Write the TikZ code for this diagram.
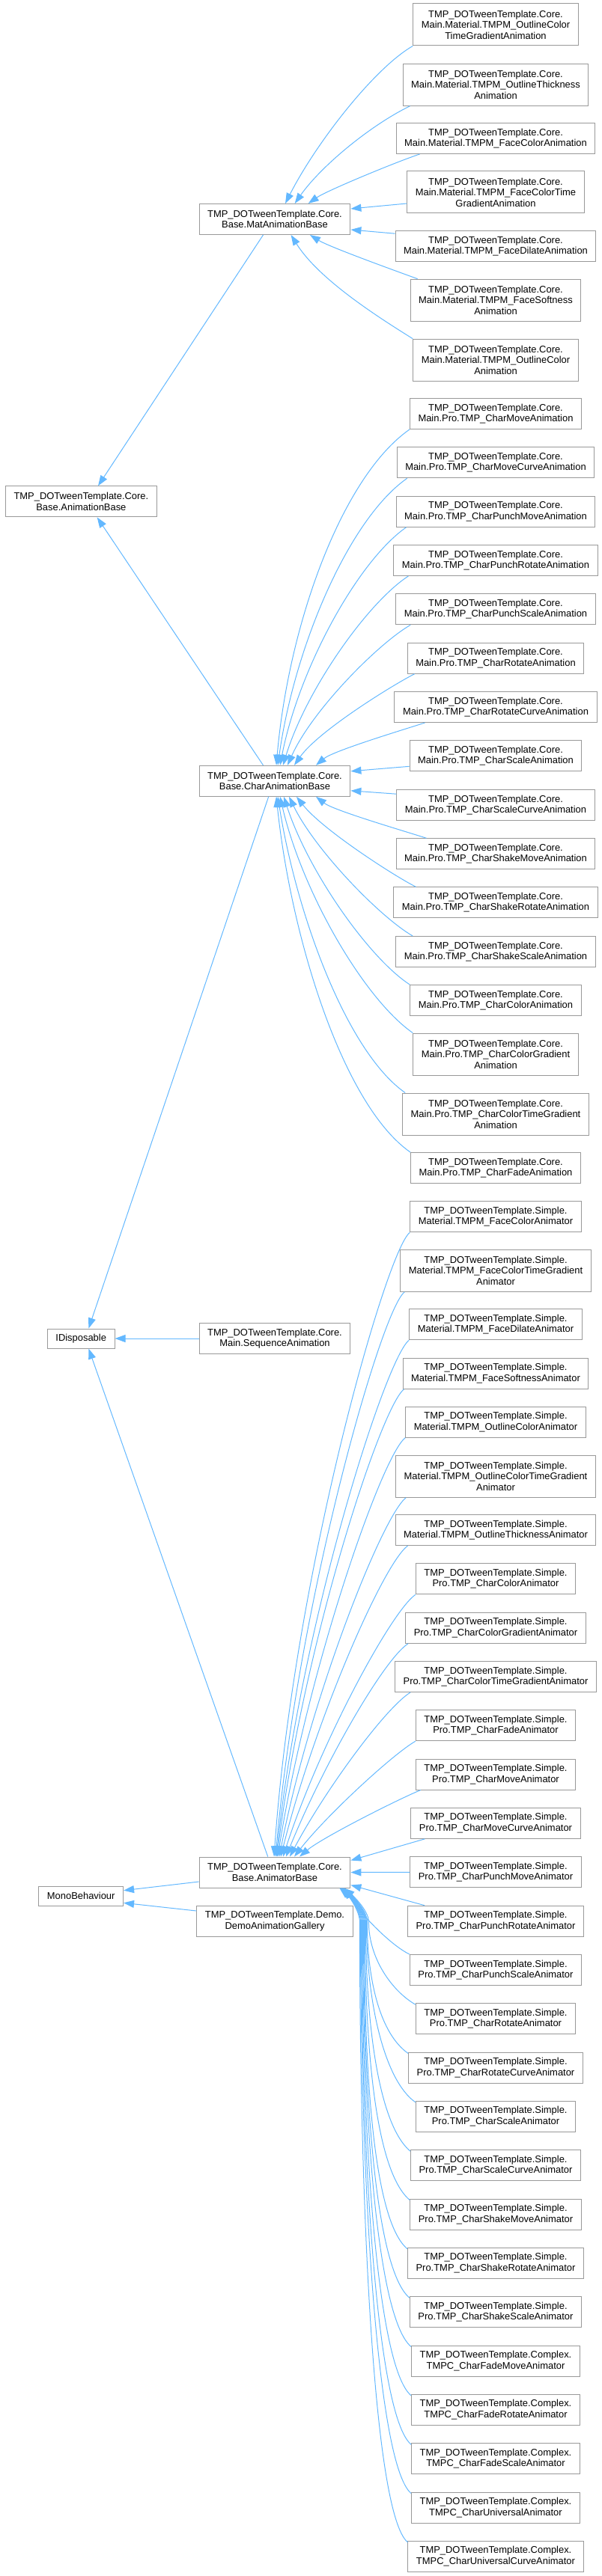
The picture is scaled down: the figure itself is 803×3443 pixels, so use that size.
\documentclass[tikz,border=0pt]{standalone}
\usepackage{fontspec}
\setmainfont{Liberation Sans}
\usetikzlibrary{calc, arrows.meta}

\definecolor{edgeblue}{HTML}{63B8FF}
\definecolor{boxgray}{HTML}{999999}

\tikzset{
    cls/.style={draw=boxgray, fill=white, line width=0.75pt, align=center,
        font=\fontsize{9.7pt}{10.9pt}\selectfont,
        inner xsep=8.3pt, inner ysep=2pt, minimum height=30.75pt},
    tall/.style={cls, minimum height=42pt},
    short/.style={cls, minimum height=19.5pt},
    inh/.style={draw=edgeblue, line width=0.75pt,
        -{Triangle[length=10.5pt, width=7.5pt]}}
}

\begin{document}
\begin{tikzpicture}[x=0.75pt, y=0.75pt]

    \useasboundingbox (0,0) rectangle (803,-3443);

    % Roots
    \node[cls] (anb) at (108.4,-670.4) {TMP\_DOTweenTemplate.Core.\\Base.AnimationBase};
    \node[short] (idisp) at (108.2,-1789) {IDisposable};
    \node[short] (mono) at (108.2,-2534.3) {MonoBehaviour};

    % Base classes
    \node[cls] (mab) at (367,-293) {TMP\_DOTweenTemplate.Core.\\Base.MatAnimationBase};
    \node[cls] (cab) at (367,-1043.8) {TMP\_DOTweenTemplate.Core.\\Base.CharAnimationBase};
    \node[cls] (seq) at (367,-1789) {TMP\_DOTweenTemplate.Core.\\Main.SequenceAnimation};
    \node[cls] (ab) at (367,-2502.5) {TMP\_DOTweenTemplate.Core.\\Base.AnimatorBase};
    \node[cls] (demo) at (367,-2567.8) {TMP\_DOTweenTemplate.Demo.\\DemoAnimationGallery};

    % Material animations
    \node[tall] (m1) at (662,-33) {TMP\_DOTweenTemplate.Core.\\Main.Material.TMPM\_OutlineColor\\TimeGradientAnimation};
    \node[tall] (m2) at (662,-113.2) {TMP\_DOTweenTemplate.Core.\\Main.Material.TMPM\_OutlineThickness\\Animation};
    \node[cls] (m3) at (662,-185) {TMP\_DOTweenTemplate.Core.\\Main.Material.TMPM\_FaceColorAnimation};
    \node[tall] (m4) at (662,-257) {TMP\_DOTweenTemplate.Core.\\Main.Material.TMPM\_FaceColorTime\\GradientAnimation};
    \node[cls] (m5) at (662,-329.2) {TMP\_DOTweenTemplate.Core.\\Main.Material.TMPM\_FaceDilateAnimation};
    \node[tall] (m6) at (662,-401.2) {TMP\_DOTweenTemplate.Core.\\Main.Material.TMPM\_FaceSoftness\\Animation};
    \node[tall] (m7) at (662,-481.2) {TMP\_DOTweenTemplate.Core.\\Main.Material.TMPM\_OutlineColor\\Animation};

    % Char animations
    \node[cls] (c1) at (662,-553) {TMP\_DOTweenTemplate.Core.\\Main.Pro.TMP\_CharMoveAnimation};
    \node[cls] (c2) at (662,-618.3) {TMP\_DOTweenTemplate.Core.\\Main.Pro.TMP\_CharMoveCurveAnimation};
    \node[cls] (c3) at (662,-683.7) {TMP\_DOTweenTemplate.Core.\\Main.Pro.TMP\_CharPunchMoveAnimation};
    \node[cls] (c4) at (662,-749) {TMP\_DOTweenTemplate.Core.\\Main.Pro.TMP\_CharPunchRotateAnimation};
    \node[cls] (c5) at (662,-814.3) {TMP\_DOTweenTemplate.Core.\\Main.Pro.TMP\_CharPunchScaleAnimation};
    \node[cls] (c6) at (662,-879.7) {TMP\_DOTweenTemplate.Core.\\Main.Pro.TMP\_CharRotateAnimation};
    \node[cls] (c7) at (662,-945) {TMP\_DOTweenTemplate.Core.\\Main.Pro.TMP\_CharRotateCurveAnimation};
    \node[cls] (c8) at (662,-1010.3) {TMP\_DOTweenTemplate.Core.\\Main.Pro.TMP\_CharScaleAnimation};
    \node[cls] (c9) at (662,-1076.2) {TMP\_DOTweenTemplate.Core.\\Main.Pro.TMP\_CharScaleCurveAnimation};
    \node[cls] (c10) at (662,-1141.3) {TMP\_DOTweenTemplate.Core.\\Main.Pro.TMP\_CharShakeMoveAnimation};
    \node[cls] (c11) at (662,-1206.3) {TMP\_DOTweenTemplate.Core.\\Main.Pro.TMP\_CharShakeRotateAnimation};
    \node[cls] (c12) at (662,-1272) {TMP\_DOTweenTemplate.Core.\\Main.Pro.TMP\_CharShakeScaleAnimation};
    \node[cls] (c13) at (662,-1337) {TMP\_DOTweenTemplate.Core.\\Main.Pro.TMP\_CharColorAnimation};
    \node[tall] (c14) at (662,-1409) {TMP\_DOTweenTemplate.Core.\\Main.Pro.TMP\_CharColorGradient\\Animation};
    \node[tall] (c15) at (662,-1489) {TMP\_DOTweenTemplate.Core.\\Main.Pro.TMP\_CharColorTimeGradient\\Animation};
    \node[cls] (c16) at (662,-1561) {TMP\_DOTweenTemplate.Core.\\Main.Pro.TMP\_CharFadeAnimation};

    % Animators
    \node[cls] (a1) at (662,-1626.3) {TMP\_DOTweenTemplate.Simple.\\Material.TMPM\_FaceColorAnimator};
    \node[tall] (a2) at (662,-1698.3) {TMP\_DOTweenTemplate.Simple.\\Material.TMPM\_FaceColorTimeGradient\\Animator};
    \node[cls] (a3) at (662,-1770.3) {TMP\_DOTweenTemplate.Simple.\\Material.TMPM\_FaceDilateAnimator};
    \node[cls] (a4) at (662,-1835.7) {TMP\_DOTweenTemplate.Simple.\\Material.TMPM\_FaceSoftnessAnimator};
    \node[cls] (a5) at (662,-1900.7) {TMP\_DOTweenTemplate.Simple.\\Material.TMPM\_OutlineColorAnimator};
    \node[tall] (a6) at (662,-1973.3) {TMP\_DOTweenTemplate.Simple.\\Material.TMPM\_OutlineColorTimeGradient\\Animator};
    \node[cls] (a7) at (662,-2045) {TMP\_DOTweenTemplate.Simple.\\Material.TMPM\_OutlineThicknessAnimator};
    \node[cls] (a8) at (662,-2110.3) {TMP\_DOTweenTemplate.Simple.\\Pro.TMP\_CharColorAnimator};
    \node[cls] (a9) at (662,-2175.7) {TMP\_DOTweenTemplate.Simple.\\Pro.TMP\_CharColorGradientAnimator};
    \node[cls] (a10) at (662,-2241) {TMP\_DOTweenTemplate.Simple.\\Pro.TMP\_CharColorTimeGradientAnimator};
    \node[cls] (a11) at (662,-2306.2) {TMP\_DOTweenTemplate.Simple.\\Pro.TMP\_CharFadeAnimator};
    \node[cls] (a12) at (662,-2371.5) {TMP\_DOTweenTemplate.Simple.\\Pro.TMP\_CharMoveAnimator};
    \node[cls] (a13) at (662,-2436.8) {TMP\_DOTweenTemplate.Simple.\\Pro.TMP\_CharMoveCurveAnimator};
    \node[cls] (a14) at (662,-2502.3) {TMP\_DOTweenTemplate.Simple.\\Pro.TMP\_CharPunchMoveAnimator};
    \node[cls] (a15) at (662,-2567.7) {TMP\_DOTweenTemplate.Simple.\\Pro.TMP\_CharPunchRotateAnimator};
    \node[cls] (a16) at (662,-2633) {TMP\_DOTweenTemplate.Simple.\\Pro.TMP\_CharPunchScaleAnimator};
    \node[cls] (a17) at (662,-2698.2) {TMP\_DOTweenTemplate.Simple.\\Pro.TMP\_CharRotateAnimator};
    \node[cls] (a18) at (662,-2763.5) {TMP\_DOTweenTemplate.Simple.\\Pro.TMP\_CharRotateCurveAnimator};
    \node[cls] (a19) at (662,-2828.8) {TMP\_DOTweenTemplate.Simple.\\Pro.TMP\_CharScaleAnimator};
    \node[cls] (a20) at (662,-2894.2) {TMP\_DOTweenTemplate.Simple.\\Pro.TMP\_CharScaleCurveAnimator};
    \node[cls] (a21) at (662,-2959.5) {TMP\_DOTweenTemplate.Simple.\\Pro.TMP\_CharShakeMoveAnimator};
    \node[cls] (a22) at (662,-3024.8) {TMP\_DOTweenTemplate.Simple.\\Pro.TMP\_CharShakeRotateAnimator};
    \node[cls] (a23) at (662,-3090.2) {TMP\_DOTweenTemplate.Simple.\\Pro.TMP\_CharShakeScaleAnimator};
    \node[cls] (a24) at (662,-3155.5) {TMP\_DOTweenTemplate.Complex.\\TMPC\_CharFadeMoveAnimator};
    \node[cls] (a25) at (662,-3220.8) {TMP\_DOTweenTemplate.Complex.\\TMPC\_CharFadeRotateAnimator};
    \node[cls] (a26) at (662,-3286.2) {TMP\_DOTweenTemplate.Complex.\\TMPC\_CharFadeScaleAnimator};
    \node[cls] (a27) at (662,-3351.5) {TMP\_DOTweenTemplate.Complex.\\TMPC\_CharUniversalAnimator};
    \node[cls] (a28) at (662,-3416.8) {TMP\_DOTweenTemplate.Complex.\\TMPC\_CharUniversalCurveAnimator};

    % Links to the roots
    \draw[inh] ($(mab.south)+(-15.5,0)$) -- ($(anb.north)+(22.6,0)$);
    \draw[inh] ($(cab.north)+(-15.5,0)$) -- ($(anb.south)+(21.3,0)$);
    \draw[inh] ($(cab.south)+(-8.3,0)$) -- ($(idisp.north)+(10.2,0)$);
    \draw[inh] ($(ab.north)+(-9.3,0)$) -- ($(idisp.south)+(10.2,0)$);
    \draw[inh] (seq.west) -- (idisp.east);
    \draw[inh] ($(ab.west)+(0,-12.5)$) -- ($(mono.east)+(0,7.6)$);
    \draw[inh] ($(demo.west)+(0,13.8)$) -- ($(mono.east)+(0,-9)$);

    % Into MatAnimationBase
    \draw[inh] (m1.south west) .. controls +(210:60) and +(63:90) .. ($(mab.north)+(14,0)$);
    \draw[inh] ($(m2.south west)+(10,0)$) .. controls +(206:60) and +(55:60) .. ($(mab.north)+(26.7,0)$);
    \draw[inh] ($(m3.south west)+(32,0)$) .. controls +(198:30) and +(35:30) .. ($(mab.north)+(44.7,0)$);
    \draw[inh] ($(m4.west)+(0,-15)$) -- ($(mab.east)+(0,14)$);
    \draw[inh] ($(m5.west)+(0,17)$) -- ($(mab.east)+(0,-14)$);
    \draw[inh] ($(m6.north west)+(10,0)$) .. controls +(160:30) and +(-32:30) .. ($(mab.south)+(47,0)$);
    \draw[inh] (m7.north west) .. controls +(148:55) and +(-58:70) .. ($(mab.south)+(21.6,0)$);

    % Into CharAnimationBase
    \draw[inh] (c1.south west) .. controls +(215:110) and +(85:190) .. ($(cab.north)+(2,0)$);
    \draw[inh] ($(c2.south west)+(14,0)$) .. controls +(215:95) and +(82:160) .. ($(cab.north)+(4,0)$);
    \draw[inh] ($(c3.south west)+(14,0)$) .. controls +(215:80) and +(79:130) .. ($(cab.north)+(7,0)$);
    \draw[inh] ($(c4.south west)+(20,0)$) .. controls +(213:65) and +(73:105) .. ($(cab.north)+(11,0)$);
    \draw[inh] ($(c5.south west)+(20,0)$) .. controls +(210:50) and +(66:80) .. ($(cab.north)+(17,0)$);
    \draw[inh] ($(c6.south west)+(10,0)$) .. controls +(207:35) and +(55:55) .. ($(cab.north)+(26,0)$);
    \draw[inh] ($(c7.south west)+(41,0)$) .. controls +(198:30) and +(40:30) .. ($(cab.north)+(55,0)$);
    \draw[inh] ($(c8.west)+(0,-14)$) -- ($(cab.east)+(0,13)$);
    \draw[inh] ($(c9.west)+(0,15)$) -- ($(cab.east)+(0,-13)$);
    \draw[inh] ($(c10.north west)+(41,0)$) .. controls +(162:30) and +(-38:30) .. ($(cab.south)+(55,0)$);
    \draw[inh] ($(c11.north west)+(30,0)$) .. controls +(153:35) and +(-52:55) .. ($(cab.south)+(29,0)$);
    \draw[inh] ($(c12.north west)+(23,0)$) .. controls +(150:50) and +(-64:80) .. ($(cab.south)+(19,0)$);
    \draw[inh] (c13.north west) .. controls +(147:65) and +(-72:105) .. ($(cab.south)+(12,0)$);
    \draw[inh] (c14.north west) .. controls +(145:80) and +(-77:130) .. ($(cab.south)+(7,0)$);
    \draw[inh] ($(c15.north west)+(4,0)$) .. controls +(145:95) and +(-81:160) .. ($(cab.south)+(4,0)$);
    \draw[inh] (c16.north west) .. controls +(145:110) and +(-84:190) .. ($(cab.south)+(2,0)$);

    % Into AnimatorBase, from above
    \draw[inh] (a1.south west) .. controls +(218:40) and +(86:376) .. ($(ab.north)+(-1,0)$);
    \draw[inh] ($(a2.south west)+(6,0)$) .. controls +(218:40) and +(85:340) .. ($(ab.north)+(1,0)$);
    \draw[inh] (a3.south west) .. controls +(218:40) and +(84:311) .. ($(ab.north)+(2,0)$);
    \draw[inh] ($(a4.south west)+(2,0)$) .. controls +(218:40) and +(83:282) .. ($(ab.north)+(3,0)$);
    \draw[inh] (a5.south west) .. controls +(218:40) and +(81:252) .. ($(ab.north)+(4,0)$);
    \draw[inh] ($(a6.south west)+(14,0)$) .. controls +(218:40) and +(79:216) .. ($(ab.north)+(6,0)$);
    \draw[inh] ($(a7.south west)+(17,0)$) .. controls +(216:40) and +(76:188) .. ($(ab.north)+(8,0)$);
    \draw[inh] (a8.south west) .. controls +(215:40) and +(72:158) .. ($(ab.north)+(11,0)$);
    \draw[inh] ($(a9.south west)+(4,0)$) .. controls +(213:40) and +(68:129) .. ($(ab.north)+(15,0)$);
    \draw[inh] ($(a10.south west)+(21,0)$) .. controls +(212:40) and +(62:100) .. ($(ab.north)+(20,0)$);
    \draw[inh] (a11.south west) .. controls +(210:35) and +(52:70) .. ($(ab.north)+(26,0)$);
    \draw[inh] ($(a12.south west)+(7,0)$) .. controls +(202:30) and +(40:40) .. ($(ab.north)+(33,0)$);
    \draw[inh] ($(a13.south west)+(19,0)$) -- ($(ab.east)+(0,16)$);
    \draw[inh] (a14.west) -- (ab.east);
    \draw[inh] ($(a15.north west)+(23,0)$) -- ($(ab.east)+(0,-17)$);

    % Into AnimatorBase, from below
    \draw[inh] (a16.north west) .. controls +(154:30) and +(-60:35) .. ($(ab.south east)+(-8,0)$);
    \draw[inh] ($(a17.north west)+(0,-2)$) .. controls +(150:35) and +(-90:50) .. ($(ab.south east)+(24,-45)$) .. controls +(90:15) and +(-40:15) .. ($(ab.south east)+(-9,0)$);
    \draw[inh] ($(a18.north west)+(0,-2)$) .. controls +(145:45) and +(-90:80) .. ($(ab.south east)+(22,-45)$) .. controls +(90:15) and +(-40:15) .. ($(ab.south east)+(-10,0)$);
    \draw[inh] ($(a19.north west)+(0,-2)$) .. controls +(145:50) and +(-90:109) .. ($(ab.south east)+(21,-45)$) .. controls +(90:15) and +(-40:15) .. ($(ab.south east)+(-10,0)$);
    \draw[inh] ($(a20.north west)+(0,-2)$) .. controls +(140:55) and +(-90:138) .. ($(ab.south east)+(20,-45)$) .. controls +(90:15) and +(-40:15) .. ($(ab.south east)+(-11,0)$);
    \draw[inh] ($(a21.north west)+(0,-2)$) .. controls +(140:60) and +(-90:168) .. ($(ab.south east)+(19,-45)$) .. controls +(90:15) and +(-40:15) .. ($(ab.south east)+(-11,0)$);
    \draw[inh] ($(a22.north west)+(0,-2)$) .. controls +(140:60) and +(-90:197) .. ($(ab.south east)+(18,-45)$) .. controls +(90:15) and +(-40:15) .. ($(ab.south east)+(-12,0)$);
    \draw[inh] ($(a23.north west)+(0,-2)$) .. controls +(140:60) and +(-90:227) .. ($(ab.south east)+(17,-45)$) .. controls +(90:15) and +(-40:15) .. ($(ab.south east)+(-12,0)$);
    \draw[inh] ($(a24.north west)+(0,-2)$) .. controls +(140:60) and +(-90:256) .. ($(ab.south east)+(16,-45)$) .. controls +(90:15) and +(-40:15) .. ($(ab.south east)+(-13,0)$);
    \draw[inh] ($(a25.north west)+(0,-2)$) .. controls +(140:60) and +(-90:285) .. ($(ab.south east)+(15,-45)$) .. controls +(90:15) and +(-40:15) .. ($(ab.south east)+(-13,0)$);
    \draw[inh] ($(a26.north west)+(0,-2)$) .. controls +(140:60) and +(-90:315) .. ($(ab.south east)+(14,-45)$) .. controls +(90:15) and +(-40:15) .. ($(ab.south east)+(-14,0)$);
    \draw[inh] ($(a27.north west)+(0,-2)$) .. controls +(140:60) and +(-90:344) .. ($(ab.south east)+(13,-45)$) .. controls +(90:15) and +(-40:15) .. ($(ab.south east)+(-14,0)$);
    \draw[inh] ($(a28.north west)+(0,-2)$) .. controls +(140:60) and +(-90:374) .. ($(ab.south east)+(12,-45)$) .. controls +(90:15) and +(-40:15) .. ($(ab.south east)+(-15,0)$);

\end{tikzpicture}
\end{document}
